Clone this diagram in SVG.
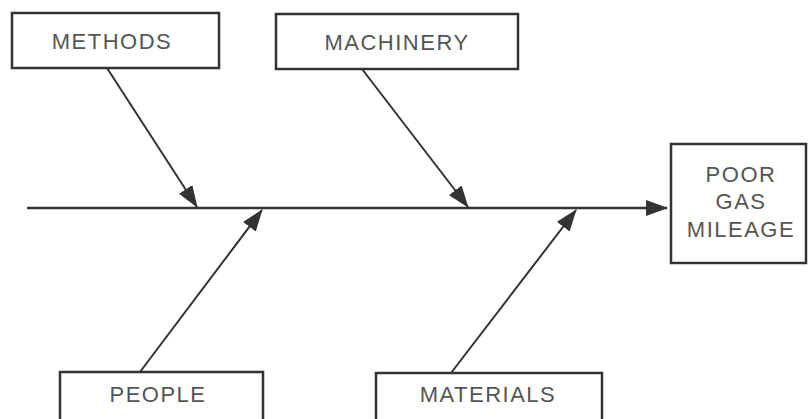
<svg xmlns="http://www.w3.org/2000/svg" width="808" height="419" viewBox="0 0 808 419">
  <defs>
    <style>
      .box { fill: #ffffff; stroke: #333333; stroke-width: 2.5; }
      .label { font-family: "Liberation Sans", Arial, sans-serif; font-size: 22px; letter-spacing: 1.5px; fill: #555555; text-anchor: middle; }
      .bone { stroke: #333333; stroke-width: 2; fill: none; }
      .spine { stroke: #333333; stroke-width: 2.5; fill: none; }
    </style>
    <marker id="head" markerUnits="userSpaceOnUse" markerWidth="22" markerHeight="16" viewBox="0 0 22 16" refX="21" refY="8" orient="auto">
      <path d="M0,0 L22,8 L0,16 Z" fill="#333333"/>
    </marker>
  </defs>
  <rect width="808" height="419" fill="#ffffff"/>

  <!-- cause and effect arrows -->
  <g id="connectors">
    <line class="spine" x1="27" y1="208" x2="667" y2="208" marker-end="url(#head)"/>
    <line class="bone" x1="107" y1="68" x2="197" y2="207" marker-end="url(#head)"/>
    <line class="bone" x1="362" y1="69" x2="468" y2="207" marker-end="url(#head)"/>
    <line class="bone" x1="140" y1="372" x2="262" y2="210" marker-end="url(#head)"/>
    <line class="bone" x1="451" y1="373" x2="576" y2="210" marker-end="url(#head)"/>
  </g>

  <g id="methods">
    <rect class="box" x="12" y="13" width="207" height="55"/>
    <text class="label" x="112" y="49">METHODS</text>
  </g>

  <g id="machinery">
    <rect class="box" x="276" y="14" width="242" height="55"/>
    <text class="label" x="397" y="50">MACHINERY</text>
  </g>

  <g id="people">
    <rect class="box" x="60" y="372" width="203" height="60"/>
    <text class="label" x="158" y="402">PEOPLE</text>
  </g>

  <g id="materials">
    <rect class="box" x="376" y="373" width="226" height="60"/>
    <text class="label" x="488" y="402">MATERIALS</text>
  </g>

  <g id="effect">
    <rect class="box" x="671" y="144" width="135" height="119"/>
    <text class="label" x="741" y="182">POOR</text>
    <text class="label" x="741" y="209">GAS</text>
    <text class="label" x="741" y="237">MILEAGE</text>
  </g>
</svg>
